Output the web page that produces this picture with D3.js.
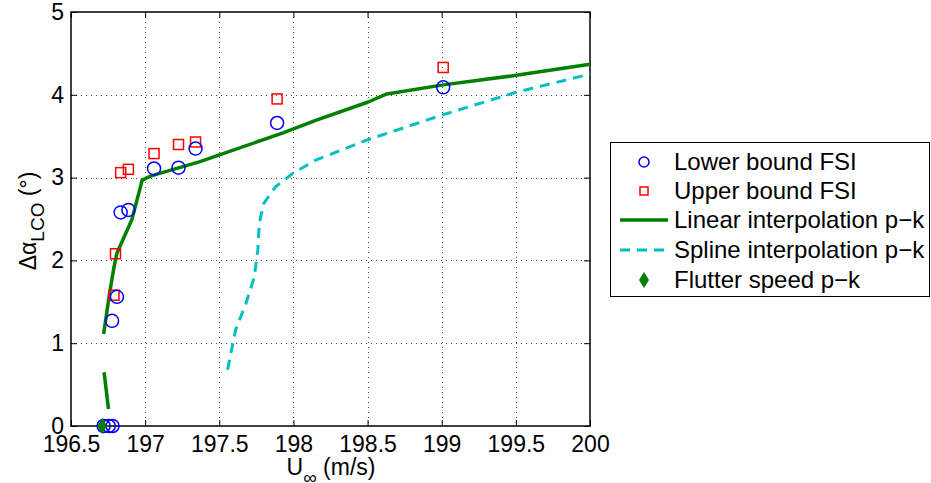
<!DOCTYPE html>
<html>
<head>
<meta charset="UTF-8">
<title>LCO amplitude</title>
<style>
  body { margin: 0; background: #fff; }
  svg text { font-family: "Liberation Sans", Arial, sans-serif; fill: #000; }
</style>
</head>
<body>
<div id="chart"></div>
<script src="https://d3js.org/d3.v7.min.js"></script>
<script>
// data
var xTicks = [196.5, 197, 197.5, 198, 198.5, 199, 199.5, 200];
var yTicks = [0, 1, 2, 3, 4, 5];

var lowerU = [196.72, 196.755, 196.78, 196.777, 196.81, 196.835, 196.887, 197.06, 197.225, 197.34, 197.89, 199.01];
var lowerA = [0, 0, 0, 1.27, 1.56, 2.58, 2.61, 3.11, 3.12, 3.35, 3.66, 4.09];

var upperU = [196.79, 196.80, 196.835, 196.887, 197.06, 197.225, 197.34, 197.89, 199.01];
var upperA = [1.58, 2.08, 3.06, 3.10, 3.29, 3.40, 3.43, 3.95, 4.33];

// NaN = break in the curve
var linU = [196.723, 196.753, NaN, 196.72, 196.76, 196.79, 196.81, 196.91, 196.98, 197.04, 197.365, 197.93, 198.15, 198.5, 198.63, 199.01, 199.48, 200];
var linA = [0.65, 0.205, NaN, 1.11, 1.6, 1.92, 2.09, 2.49, 2.97, 3.02, 3.19, 3.54, 3.69, 3.91, 4.01, 4.12, 4.23, 4.37];

var splU = [197.556, 197.61, 197.68, 197.736, 197.76, 197.77, 197.80, 197.88, 197.995, 198.15, 198.49, 199.01, 199.5, 200];
var splA = [0.68, 1.16, 1.48, 1.80, 2.13, 2.45, 2.69, 2.89, 3.05, 3.21, 3.45, 3.76, 4.03, 4.25];

var flutterU = [196.71];
var flutterA = [0];

var legendNames = ["Lower bound FSI", "Upper bound FSI", "Linear interpolation p\u2212k", "Spline interpolation p\u2212k", "Flutter speed p\u2212k"];

var width = 931, height = 483;
var mLeft = 71, mRight = 590, mTop = 12, mBottom = 426;
var green = "#007f00", cyan = "#00bfbf";

var svg = d3.select("#chart").append("svg")
    .attr("width", width)
    .attr("height", height);

var x = d3.scaleLinear().domain([196.5, 200]).range([mLeft, mRight]);
var y = d3.scaleLinear().domain([0, 5]).range([mBottom, mTop]);

// grid
var grid = svg.append("g")
    .attr("stroke", "#444")
    .attr("stroke-width", 1)
    .attr("stroke-dasharray", "1,4");
grid.selectAll(".gx").data(xTicks.slice(1, -1)).enter().append("line")
    .attr("x1", function (d) { return Math.round(x(d)) + 0.5; })
    .attr("x2", function (d) { return Math.round(x(d)) + 0.5; })
    .attr("y1", mTop).attr("y2", mBottom);
grid.selectAll(".gy").data(yTicks.slice(1, -1)).enter().append("line")
    .attr("y1", function (d) { return Math.round(y(d)) + 0.5; })
    .attr("y2", function (d) { return Math.round(y(d)) + 0.5; })
    .attr("x1", mLeft).attr("x2", mRight);

// axes, ticks inward on all four sides
svg.append("g")
    .attr("transform", "translate(0," + mBottom + ")")
    .call(d3.axisBottom(x).tickValues(xTicks).tickSizeInner(-6).tickSizeOuter(0).tickPadding(10).tickFormat(d3.format("")))
    .call(function (g) { g.select(".domain").remove(); });
svg.append("g")
    .attr("transform", "translate(" + mLeft + ",0)")
    .call(d3.axisLeft(y).tickValues(yTicks).tickSizeInner(-6).tickSizeOuter(0).tickPadding(7).tickFormat(d3.format("d")))
    .call(function (g) { g.select(".domain").remove(); });
svg.append("g")
    .attr("transform", "translate(0," + mTop + ")")
    .call(d3.axisTop(x).tickValues(xTicks).tickSizeInner(-6).tickSizeOuter(0).tickFormat(""))
    .call(function (g) { g.select(".domain").remove(); });
svg.append("g")
    .attr("transform", "translate(" + mRight + ",0)")
    .call(d3.axisRight(y).tickValues(yTicks).tickSizeInner(-6).tickSizeOuter(0).tickFormat(""))
    .call(function (g) { g.select(".domain").remove(); });

svg.selectAll(".tick text").attr("font-size", 23).attr("font-family", "Liberation Sans, Arial, sans-serif");
svg.selectAll(".tick line").attr("stroke", "#000");

svg.append("rect")
    .attr("x", mLeft).attr("y", mTop)
    .attr("width", mRight - mLeft).attr("height", mBottom - mTop)
    .attr("fill", "none").attr("stroke", "#000").attr("stroke-width", 1.5);

// curves
function pts(us, as) {
    return us.map(function (u, i) { return [u, as[i]]; });
}
var line = d3.line()
    .defined(function (d) { return !isNaN(d[0]); })
    .x(function (d) { return x(d[0]); })
    .y(function (d) { return y(d[1]); });

svg.append("path")
    .datum(pts(splU, splA))
    .attr("d", line)
    .attr("fill", "none")
    .attr("stroke", cyan)
    .attr("stroke-width", 3)
    .attr("stroke-dasharray", "10,7");

svg.append("path")
    .datum(pts(linU, linA))
    .attr("d", line)
    .attr("fill", "none")
    .attr("stroke", green)
    .attr("stroke-width", 3.5)
    .attr("stroke-linejoin", "round");

// markers
svg.selectAll(".up").data(pts(upperU, upperA)).enter().append("rect")
    .attr("x", function (d) { return x(d[0]) - 5; })
    .attr("y", function (d) { return y(d[1]) - 5; })
    .attr("width", 10).attr("height", 10)
    .attr("fill", "none").attr("stroke", "#ff0000").attr("stroke-width", 1.5);

svg.selectAll(".lo").data(pts(lowerU, lowerA)).enter().append("circle")
    .attr("cx", function (d) { return x(d[0]); })
    .attr("cy", function (d) { return y(d[1]); })
    .attr("r", 6.5)
    .attr("fill", "none").attr("stroke", "#0000ff").attr("stroke-width", 1.5);

var diamond = "M0,-8L5,0L0,8L-5,0Z";
svg.selectAll(".fl").data(pts(flutterU, flutterA)).enter().append("path")
    .attr("transform", function (d) { return "translate(" + x(d[0]) + "," + y(d[1]) + ")"; })
    .attr("d", diamond)
    .attr("fill", green);

// axis labels
var ylab = svg.append("text")
    .attr("transform", "translate(36,221) rotate(-90)")
    .attr("text-anchor", "middle")
    .attr("font-size", 23);
ylab.append("tspan").text("\u0394\u03b1");
ylab.append("tspan").attr("dy", 8).attr("font-size", 19).text("LCO");
ylab.append("tspan").attr("dy", -8).text(" (\u00b0)");

var xlab = svg.append("text")
    .attr("x", 331).attr("y", 475)
    .attr("text-anchor", "middle")
    .attr("font-size", 23);
xlab.append("tspan").text("U");
xlab.append("tspan").attr("dy", 9).attr("font-size", 19).text("\u221e");
xlab.append("tspan").attr("dy", -9).text(" (m/s)");

// legend
var lg = svg.append("g");
lg.append("rect")
    .attr("x", 610.5).attr("y", 142.5)
    .attr("width", 319).attr("height", 154)
    .attr("fill", "#fff").attr("stroke", "#000").attr("stroke-width", 1);

var rowY = [162, 191, 220, 250, 280];
lg.selectAll(".lt").data(legendNames).enter().append("text")
    .attr("x", 674)
    .attr("y", function (d, i) { return rowY[i] + 8; })
    .attr("font-size", 24)
    .text(function (d) { return d; });

lg.append("circle").attr("cx", 644).attr("cy", rowY[0]).attr("r", 5)
    .attr("fill", "none").attr("stroke", "#0000ff").attr("stroke-width", 1.5);
lg.append("rect").attr("x", 640).attr("y", rowY[1] - 4).attr("width", 8).attr("height", 8)
    .attr("fill", "none").attr("stroke", "#ff0000").attr("stroke-width", 1.5);
lg.append("line").attr("x1", 620).attr("x2", 668).attr("y1", rowY[2]).attr("y2", rowY[2])
    .attr("stroke", green).attr("stroke-width", 3.5);
lg.append("line").attr("x1", 620).attr("x2", 668).attr("y1", rowY[3]).attr("y2", rowY[3])
    .attr("stroke", cyan).attr("stroke-width", 3).attr("stroke-dasharray", "10,7");
lg.append("path").attr("transform", "translate(644," + rowY[4] + ")")
    .attr("d", diamond).attr("fill", green);
</script>
</body>
</html>
